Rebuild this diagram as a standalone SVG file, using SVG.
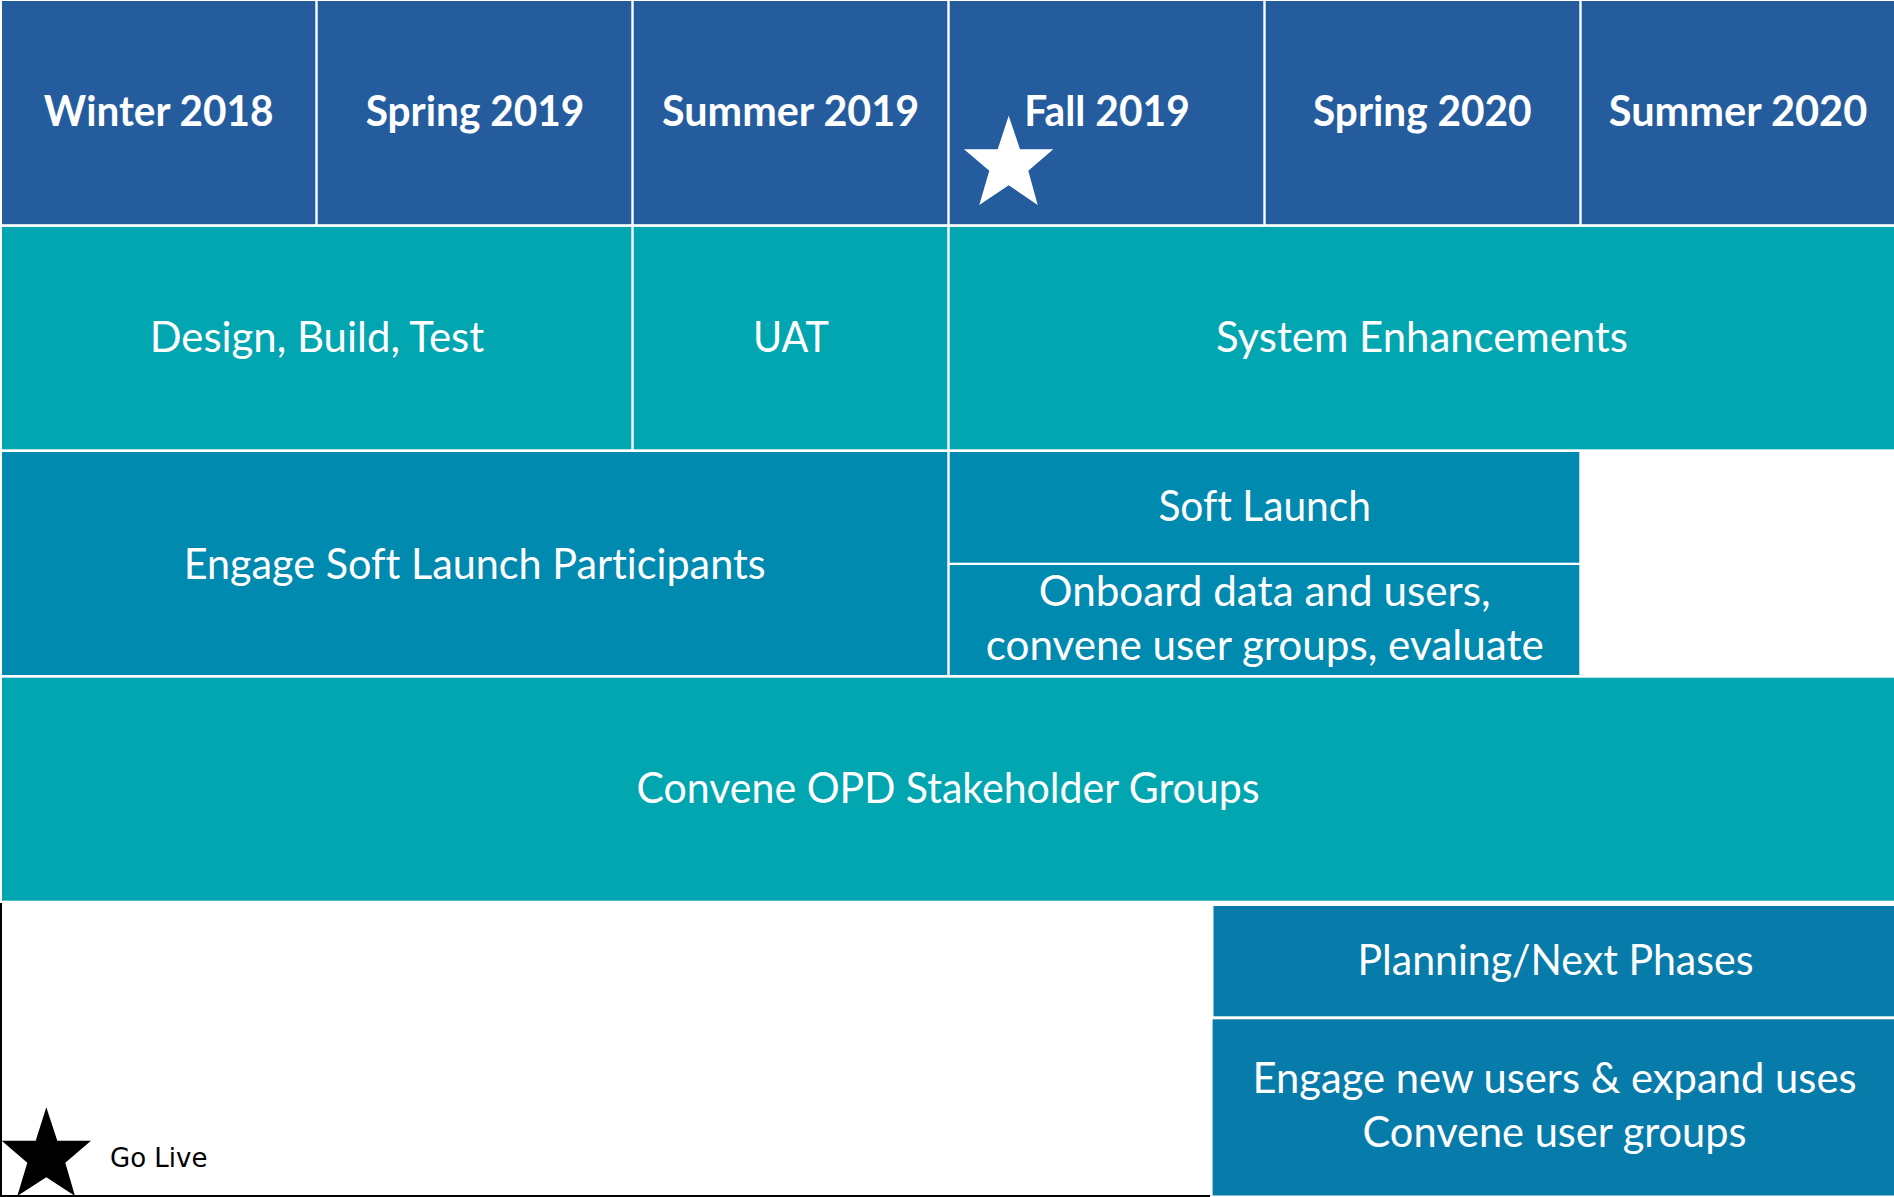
<svg xmlns="http://www.w3.org/2000/svg" width="1894" height="1197" viewBox="0 0 1894 1197">
<style>
.hdr{fill:#245C9E}
.teal{fill:#02A6B0}
.blue{fill:#018AB0}
.blue2{fill:#077BAA}
.th{font-family:Lato,"Open Sans",sans-serif;font-weight:bold;font-size:42px;fill:#fff;text-anchor:middle;font-variant-ligatures:none}
.t{font-family:Lato,"Open Sans",sans-serif;font-size:42px;fill:#fff;text-anchor:middle;font-variant-ligatures:none}
.leg{font-family:"DejaVu Sans",sans-serif;font-size:26px;fill:#000}
</style>
<rect x="0" y="0" width="1894" height="1197" fill="#fff"/>
<g id="hdr-winter2018"><rect class="hdr" x="2" y="1" width="313.3" height="223.2"/><text class="th" x="158.6" y="126" textLength="229.5" lengthAdjust="spacingAndGlyphs">Winter 2018</text></g>
<g id="hdr-spring2019"><rect class="hdr" x="317.7" y="1" width="313.6" height="223.2"/><text class="th" x="475" y="126" textLength="218.6" lengthAdjust="spacingAndGlyphs">Spring 2019</text></g>
<g id="hdr-summer2019"><rect class="hdr" x="633.7" y="1" width="313.6" height="223.2"/><text class="th" x="790.6" y="126" textLength="257.3" lengthAdjust="spacingAndGlyphs">Summer 2019</text></g>
<g id="hdr-fall2019"><rect class="hdr" x="949.7" y="1" width="313.6" height="223.2"/><text class="th" x="1107" y="126" textLength="165.5" lengthAdjust="spacingAndGlyphs">Fall 2019</text>
<polygon fill="#fff" points="1008.7,115.7 1020,149.3 1053.3,149.3 1028.3,170.7 1037.7,205 1008.7,185.3 979.3,205 989.3,170.7 964,149.3 997.7,149.3"/></g>
<g id="hdr-spring2020"><rect class="hdr" x="1265.7" y="1" width="313.6" height="223.2"/><text class="th" x="1422.3" y="126" textLength="218.6" lengthAdjust="spacingAndGlyphs">Spring 2020</text></g>
<g id="hdr-summer2020"><rect class="hdr" x="1581.7" y="1" width="312.3" height="223.2"/><text class="th" x="1738" y="126" textLength="258.5" lengthAdjust="spacingAndGlyphs">Summer 2020</text></g>

<g id="design-build-test"><rect class="teal" x="2" y="226.9" width="629.3" height="222.4"/><text class="t" x="317" y="352" textLength="334.6" lengthAdjust="spacingAndGlyphs">Design, Build, Test</text></g>
<g id="uat"><rect class="teal" x="633.7" y="226.9" width="313.6" height="222.4"/><text class="t" x="791" y="352" textLength="76" lengthAdjust="spacingAndGlyphs">UAT</text></g>
<g id="system-enhancements"><rect class="teal" x="949.7" y="226.9" width="944.3" height="222.4"/><text class="t" x="1422" y="352" textLength="412" lengthAdjust="spacingAndGlyphs">System Enhancements</text></g>

<g id="engage-soft-launch"><rect class="blue" x="2" y="452" width="945.3" height="223"/><text class="t" x="474.7" y="578.5" textLength="582" lengthAdjust="spacingAndGlyphs">Engage Soft Launch Participants</text></g>
<g id="soft-launch"><rect class="blue" x="949.7" y="452" width="629.6" height="110.7"/><text class="t" x="1264.7" y="520.5" textLength="212.6" lengthAdjust="spacingAndGlyphs">Soft Launch</text></g>
<g id="onboard"><rect class="blue" x="949.7" y="565" width="629.6" height="110"/><text class="t" x="1264.7" y="606" textLength="451.8" lengthAdjust="spacingAndGlyphs">Onboard data and users,</text><text class="t" x="1264.7" y="660.3" textLength="558" lengthAdjust="spacingAndGlyphs">convene user groups, evaluate</text></g>

<g id="convene-opd"><rect class="teal" x="2" y="677.7" width="1892" height="223"/><text class="t" x="948" y="803" textLength="623" lengthAdjust="spacingAndGlyphs">Convene OPD Stakeholder Groups</text></g>

<g id="planning"><rect class="blue2" x="1213.5" y="906" width="680.5" height="110.3"/><text class="t" x="1555.5" y="974.5" textLength="396" lengthAdjust="spacingAndGlyphs">Planning/Next Phases</text></g>
<g id="engage-new"><rect class="blue2" x="1212.6" y="1019.3" width="681.4" height="176.2"/><text class="t" x="1554.5" y="1092.5" textLength="604" lengthAdjust="spacingAndGlyphs">Engage new users &amp; expand uses</text><text class="t" x="1554.5" y="1147" textLength="384" lengthAdjust="spacingAndGlyphs">Convene user groups</text></g>

<g id="legend">
<path d="M1,903 V1196 H1210" fill="none" stroke="#000" stroke-width="2"/>
<polygon fill="#000" points="46.3,1107.3 57.3,1140.7 91,1140.7 65.3,1162.7 75,1196 46.3,1177.3 17.3,1196 27.3,1162.7 1.7,1140.7 35.7,1140.7"/>
<text class="leg" x="110" y="1167">Go Live</text>
</g>
</svg>
